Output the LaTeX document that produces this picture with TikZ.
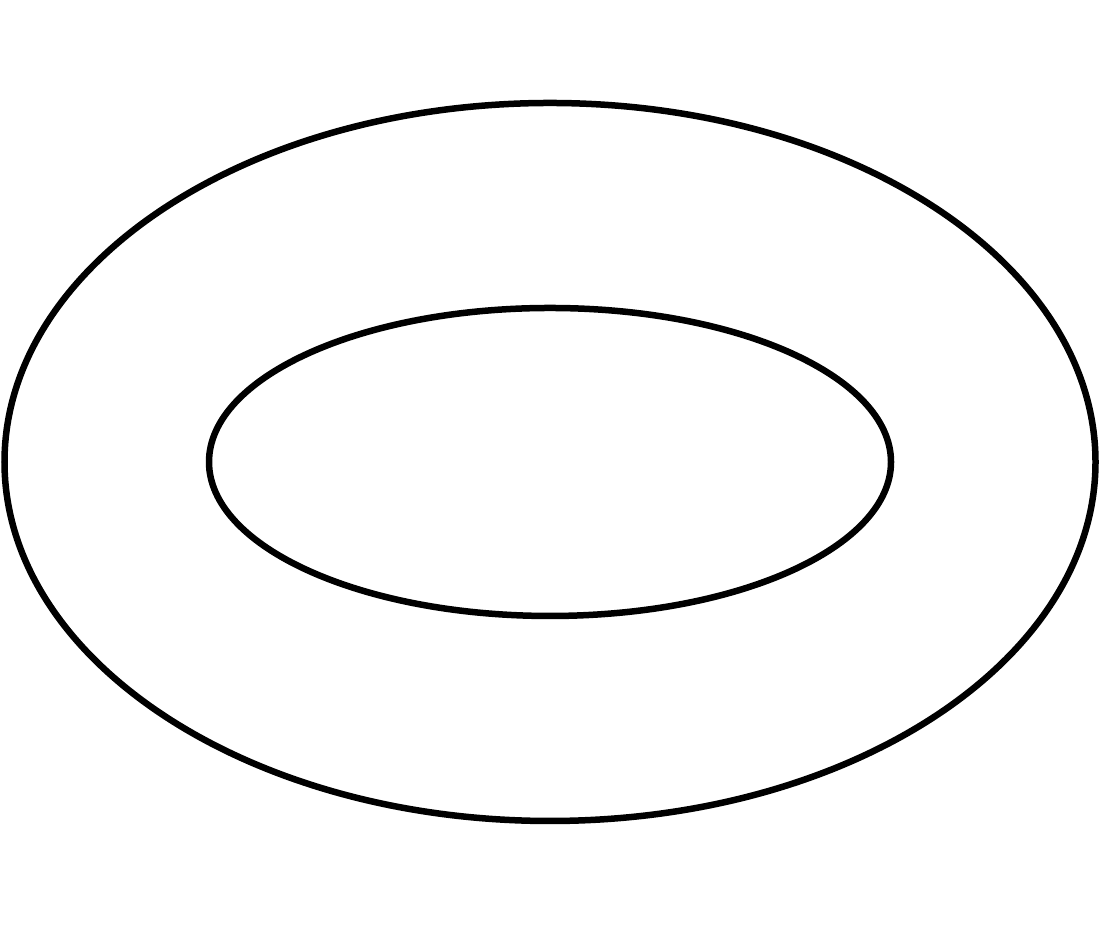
\documentclass[tikz,border=0pt]{standalone}
\usepackage{tikz}

\begin{document}
\begin{tikzpicture}
			%%%%% START %%%%%
			\useasboundingbox (0, 0) rectangle (11, 9.25);
			
			\coordinate (centre) at (5.5, 4.63);
			
			\draw[line width=0.65mm] (centre) ellipse (5.455 and 3.59);
			\draw[line width=0.65mm] (centre) ellipse (3.41 and 1.54);
			
			%%%%% END %%%%%
\end{tikzpicture}
\end{document}
